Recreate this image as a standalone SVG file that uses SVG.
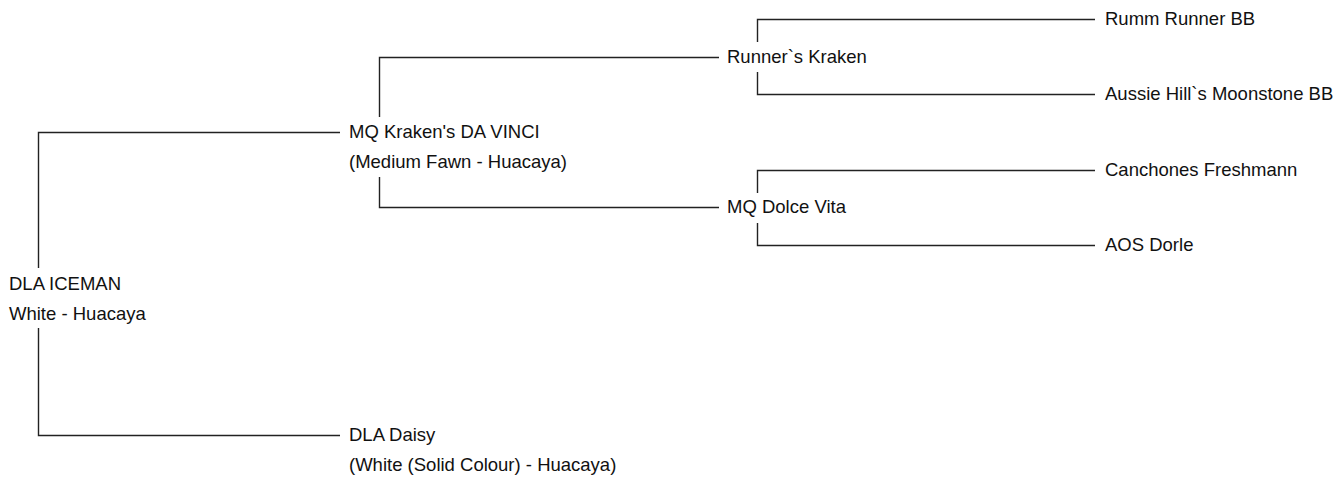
<svg xmlns="http://www.w3.org/2000/svg" width="1340" height="477" viewBox="0 0 1340 477">
<style>
text{font-family:"Liberation Sans",Arial,sans-serif;font-size:18.5px;fill:#111}
.c{fill:none;stroke:#222;stroke-width:1.4}
</style>
<rect width="1340" height="477" fill="#fff"/>
<g id="connectors">
<path class="c" d="M38.5 268V132.5H340"/>
<path class="c" d="M38.5 328V435.5H340"/>
<path class="c" d="M379.5 117V57.5H719"/>
<path class="c" d="M379.5 177V207.5H719"/>
<path class="c" d="M757.5 42V19.5H1095"/>
<path class="c" d="M757.5 72V94.5H1095"/>
<path class="c" d="M757.5 193V170.5H1095"/>
<path class="c" d="M757.5 223V245.5H1095"/>
</g>
<g id="n-iceman"><text x="9" y="289.5">DLA ICEMAN</text><text x="9" y="319.5">White - Huacaya</text></g>
<g id="n-davinci"><text x="349" y="138">MQ Kraken's DA VINCI</text><text x="349" y="167.5">(Medium Fawn - Huacaya)</text></g>
<g id="n-daisy"><text x="349" y="441">DLA Daisy</text><text x="349" y="470.5">(White (Solid Colour) - Huacaya)</text></g>
<g id="n-runnerskraken"><text x="727" y="63">Runner`s Kraken</text></g>
<g id="n-dolcevita"><text x="727" y="213">MQ Dolce Vita</text></g>
<g id="n-rumm"><text x="1105" y="25">Rumm Runner BB</text></g>
<g id="n-aussie"><text x="1105" y="100">Aussie Hill`s Moonstone BB</text></g>
<g id="n-canchones"><text x="1105" y="176">Canchones Freshmann</text></g>
<g id="n-aos"><text x="1105" y="251">AOS Dorle</text></g>
</svg>
